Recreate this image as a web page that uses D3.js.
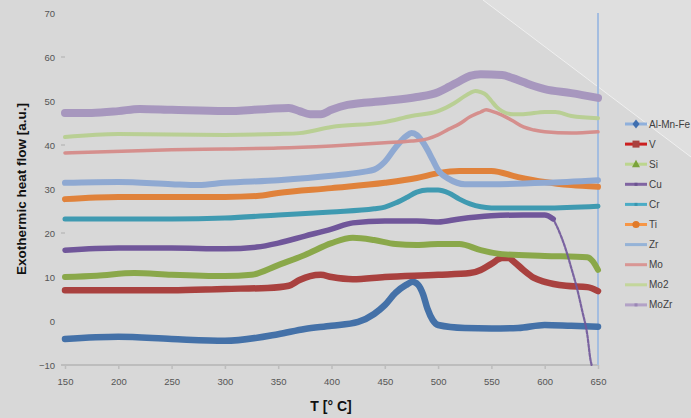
<!DOCTYPE html>
<html>
<head>
<meta charset="utf-8">
<script src="https://cdn.jsdelivr.net/npm/d3@7/dist/d3.min.js"></script>
<style>
  html, body { margin: 0; padding: 0; background: #d9d9d9; }
  svg { display: block; font-family: "Liberation Sans", Arial, sans-serif; }
</style>
</head>
<body>
<svg id="chart" width="691" height="418"></svg>
<script>
// DSC traces: [temperature °C, exothermic heat flow a.u.]
const alMnFe = [[150,-4.1],[200,-3.6],[250,-4.1],[300,-4.5],[350,-3.0],[375,-1.8],[400,-1.1],[425,-0.2],[440,1.6],[450,3.6],[460,6.4],[470,8.2],[476,8.9],[481,8.3],[486,6.0],[490,2.8],[495,0.2],[500,-0.9],[525,-1.6],[550,-1.7],[575,-1.6],[600,-0.9],[625,-1.1],[650,-1.3]];
const vTrace = [[150,7.0],[200,7.0],[250,7.0],[300,7.3],[340,7.5],[360,8.0],[370,9.3],[380,10.2],[390,10.5],[400,10.0],[420,9.5],[450,10.0],[500,10.5],[530,10.9],[540,11.6],[550,13.0],[560,14.3],[566,14.3],[571,13.5],[580,11.6],[590,9.8],[600,8.9],[620,8.0],[640,7.7],[650,6.8]];
const siTrace = [[150,10.0],[180,10.3],[215,10.9],[250,10.5],[300,10.2],[325,10.5],[350,12.7],[375,15.0],[400,17.7],[420,18.9],[440,18.4],[460,17.5],[480,17.3],[500,17.5],[520,17.5],[540,16.1],[560,15.2],[600,14.8],[640,14.5],[645,13.6],[650,11.6]];
const cuTrace = [[150,16.1],[200,16.6],[250,16.6],[300,16.4],[330,16.8],[350,17.7],[375,19.3],[400,20.9],[420,22.3],[450,22.7],[480,22.7],[500,22.5],[520,23.2],[550,23.9],[580,24.1],[600,24.1],[608,23.2],[615,19.5],[620,16.1],[625,12.0],[630,7.7],[635,2.5],[640,-3.2],[643,-8.9],[644,-10]];
const crTrace = [[150,23.2],[250,23.2],[300,23.4],[350,24.1],[400,24.8],[440,25.5],[450,25.9],[460,26.8],[470,28.0],[480,29.3],[490,29.8],[500,29.8],[510,29.1],[520,27.7],[530,26.6],[550,25.7],[600,25.7],[650,26.1]];
const tiTrace = [[150,27.7],[200,28.2],[250,28.2],[300,28.2],[330,28.4],[350,29.1],[400,30.2],[450,31.4],[480,32.5],[500,33.6],[520,34.1],[550,34.1],[575,32.7],[600,31.6],[625,30.9],[650,30.5]];
const zrTrace = [[150,31.4],[200,31.6],[250,31.1],[275,30.9],[300,31.4],[350,32.0],[400,33.0],[430,33.9],[440,34.4],[450,36.2],[460,39.4],[470,42.0],[475,42.7],[480,42.3],[485,40.9],[490,38.9],[495,36.6],[500,34.3],[510,32.3],[525,31.1],[550,31.1],[600,31.4],[650,32.0]];
const moTrace = [[150,38.2],[250,38.9],[300,39.1],[350,39.3],[400,39.8],[450,40.5],[475,40.9],[490,41.4],[500,42.3],[510,43.6],[520,44.8],[530,46.4],[540,47.5],[545,48.0],[550,47.7],[560,46.8],[570,45.5],[580,44.1],[590,43.4],[600,43.0],[625,42.7],[650,43.0]];
const mo2Trace = [[150,41.8],[200,42.5],[300,42.3],[350,42.5],[370,42.7],[400,44.1],[450,45.2],[475,46.6],[500,47.7],[515,49.5],[525,51.1],[530,51.8],[535,52.3],[540,52.0],[545,51.4],[550,50.0],[555,48.6],[560,47.7],[570,47.0],[580,47.0],[600,47.5],[610,47.5],[625,46.6],[650,46.1]];
const moZrTrace = [[150,47.3],[175,47.3],[200,47.7],[220,48.2],[250,48.0],[300,47.7],[340,48.2],[360,48.4],[370,47.7],[380,47.0],[390,47.0],[400,48.0],[415,49.1],[450,50.0],[480,50.9],[500,52.0],[510,53.2],[520,54.5],[530,55.7],[540,56.1],[560,55.9],[570,55.2],[580,54.3],[590,53.4],[600,52.7],[625,51.8],[650,50.7]];

const seriesNames = ["Al-Mn-Fe", "V", "Si", "Cu", "Cr", "Ti", "Zr", "Mo", "Mo2", "MoZr"];
const seriesData = [alMnFe, vTrace, siTrace, cuTrace, crTrace, tiTrace, zrTrace, moTrace, mo2Trace, moZrTrace];

const xTicks = [150, 200, 250, 300, 350, 400, 450, 500, 550, 600, 650];
const yTicks = [-10, 0, 10, 20, 30, 40, 50, 60, 70];
const yMarkTicks = [20, 40, 60];
const endMarkerT = 650;            // vertical reference line temperature
const cuBreakT = 608;              // Cu trace thins out past this temperature

// styles
const lineColors = ["#4471a8", "#a9413f", "#8aa84a", "#70569a", "#3f9ab1", "#e0823b", "#8fa9d2", "#d58f8d", "#b9cf94", "#a797be"];
const lineWidths = [6.5, 6.5, 6, 5.5, 5, 6, 6, 3.5, 4, 8];
const legendLineColors = ["#8fb0dc", "#cc1f1f", "#bcd68e", "#8064a2", "#4bacc6", "#f79646", "#95b3d7", "#d99694", "#c3d69b", "#b3a2c7"];
const legendMarkers = ["diamond", "square", "triangle", "dot", "dot", "circle", null, null, null, "dot"];
const legendMarkerColors = ["#3f6fb0", "#a9413f", "#7aa33a", "#6a5390", "#3a95ad", "#e07a2a", null, null, null, "#9a86b5"];

const svg = d3.select("#chart");
const W = 691, H = 418;

// background with a soft diagonal highlight in the upper right
svg.append("rect").attr("width", W).attr("height", H).attr("fill", "#d8d8d8");
svg.append("polygon")
  .attr("points", "483,0 691,0 691,157")
  .attr("fill", "#dfdfdf");
svg.append("line")
  .attr("x1", 483).attr("y1", 0).attr("x2", 691).attr("y2", 157)
  .attr("stroke", "#f4f4f4").attr("stroke-width", 1).attr("opacity", 0.85);

const x = d3.scaleLinear().domain([150, 650]).range([65, 598]);
const y = d3.scaleLinear().domain([-10, 70]).range([365, 13]);

// x axis
const xAxis = svg.append("g")
  .attr("transform", `translate(0,${y(-10)})`)
  .call(d3.axisBottom(x).tickValues(xTicks).tickSize(4).tickPadding(9).tickFormat(d3.format("d")));
xAxis.select(".domain").attr("stroke", "#bdbdbd").attr("stroke-width", 2)
  .attr("d", `M61,0H${x(650)}`);
xAxis.selectAll(".tick line").attr("stroke", "#bdbdbd").attr("stroke-width", 1.5);
xAxis.selectAll(".tick text").attr("fill", "#555").attr("font-size", 9.5);

// y axis labels
const yAxis = svg.append("g")
  .attr("transform", "translate(61,0)")
  .call(d3.axisLeft(y).tickValues(yTicks).tickSize(0).tickPadding(6).tickFormat(d3.format("d")));
yAxis.select(".domain").remove();
yAxis.selectAll(".tick text").attr("fill", "#555").attr("font-size", 9.5);

// short y tick marks
svg.append("g").selectAll("line").data(yMarkTicks).join("line")
  .attr("x1", 61).attr("x2", 65)
  .attr("y1", d => y(d)).attr("y2", d => y(d))
  .attr("stroke", "#bdbdbd").attr("stroke-width", 1.5);

// vertical reference line at the end temperature
svg.append("line")
  .attr("x1", x(endMarkerT)).attr("x2", x(endMarkerT))
  .attr("y1", y(70)).attr("y2", y(-10))
  .attr("stroke", "#a4bde0").attr("stroke-width", 2);

// traces
const line = d3.line().x(d => x(d[0])).y(d => y(d[1])).curve(d3.curveMonotoneX);
const traces = svg.append("g").attr("stroke-linecap", "round").attr("stroke-linejoin", "round").attr("fill", "none");

seriesData.forEach((data, i) => {
  if (seriesNames[i] === "Cu") {
    const main = data.filter(d => d[0] <= cuBreakT);
    const drop = data.filter(d => d[0] >= cuBreakT);
    traces.append("path").attr("d", line(drop))
      .attr("stroke", lineColors[i]).attr("stroke-width", 2.2)
      .attr("stroke-dasharray", "3,1.5").attr("opacity", 0.9);
    traces.append("path").attr("d", line(main))
      .attr("stroke", lineColors[i]).attr("stroke-width", lineWidths[i]);
  } else {
    traces.append("path").attr("d", line(data))
      .attr("stroke", lineColors[i]).attr("stroke-width", lineWidths[i]);
  }
});

// legend
const legend = svg.append("g");
seriesNames.forEach((name, i) => {
  const cy = 124 + i * 20.1;
  const g = legend.append("g");
  g.append("line").attr("x1", 625).attr("x2", 647).attr("y1", cy).attr("y2", cy)
    .attr("stroke", legendLineColors[i]).attr("stroke-width", 3);
  const m = legendMarkers[i], c = legendMarkerColors[i], cx = 636;
  if (m === "diamond") {
    g.append("path").attr("d", `M${cx},${cy - 4.5}L${cx + 3.5},${cy}L${cx},${cy + 4.5}L${cx - 3.5},${cy}Z`).attr("fill", c);
  } else if (m === "square") {
    g.append("rect").attr("x", cx - 3.5).attr("y", cy - 3.5).attr("width", 7).attr("height", 7).attr("fill", c);
  } else if (m === "triangle") {
    g.append("path").attr("d", `M${cx},${cy - 4.5}L${cx + 4},${cy + 3}L${cx - 4},${cy + 3}Z`).attr("fill", c);
  } else if (m === "circle") {
    g.append("circle").attr("cx", cx).attr("cy", cy).attr("r", 3.6).attr("fill", c);
  } else if (m === "dot") {
    g.append("rect").attr("x", cx - 1.5).attr("y", cy - 1.5).attr("width", 3).attr("height", 3).attr("fill", c);
  }
  g.append("text").attr("x", 649).attr("y", cy).attr("dy", "0.35em")
    .attr("font-size", 10).attr("fill", "#404040").text(name);
});

// axis titles
svg.append("text")
  .attr("transform", `translate(26,${(y(70) + y(-10)) / 2})rotate(-90)`)
  .attr("text-anchor", "middle").attr("font-size", 13.5).attr("font-weight", "bold")
  .attr("fill", "#111").text("Exothermic heat flow [a.u.]");
svg.append("text")
  .attr("x", 331).attr("y", 411)
  .attr("text-anchor", "middle").attr("font-size", 14).attr("font-weight", "bold")
  .attr("fill", "#111").text("T [° C]");
</script>
</body>
</html>
